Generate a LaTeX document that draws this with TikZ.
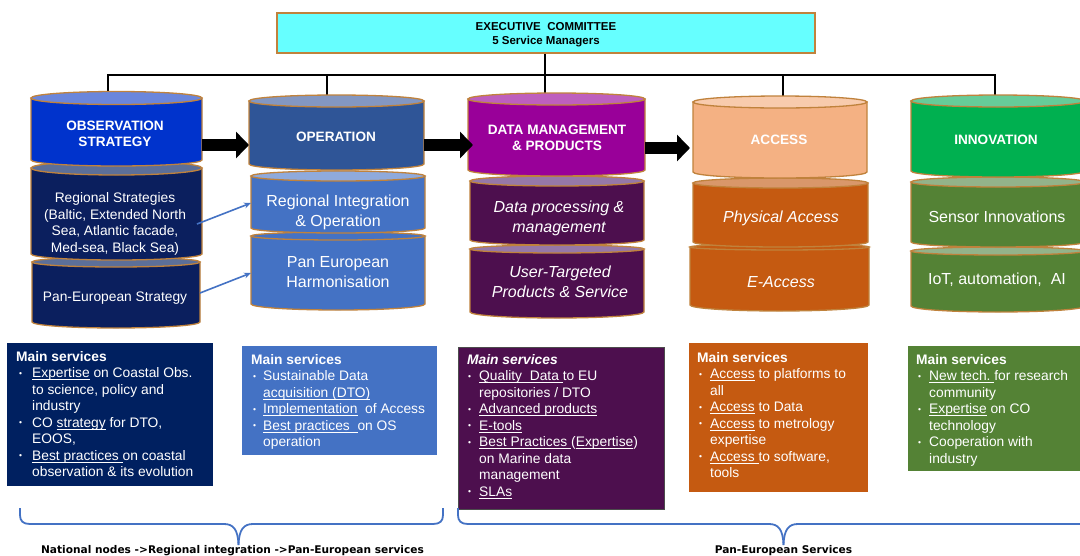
\documentclass[tikz,border=0pt]{standalone}
\usepackage{fontspec}
\setmainfont{Liberation Sans}
\newfontfamily\labfont{DejaVu Sans}
\usetikzlibrary{arrows.meta}

\definecolor{edgebrown}{HTML}{C0823C}
\definecolor{execcyan}{HTML}{66FFFF}
\definecolor{obsMain}{HTML}{0033CC}
\definecolor{obsLid}{HTML}{6A86DC}
\definecolor{obsSub}{HTML}{0B1F5E}
\definecolor{obsSubLid}{HTML}{5C6F99}
\definecolor{opMain}{HTML}{2F5597}
\definecolor{opLid}{HTML}{8397C2}
\definecolor{opSub}{HTML}{4472C4}
\definecolor{opSubLid}{HTML}{8FAADC}
\definecolor{dmMain}{HTML}{990099}
\definecolor{dmLid}{HTML}{BE5FBE}
\definecolor{dmSub}{HTML}{4D0F4E}
\definecolor{dmSubLid}{HTML}{9678A8}
\definecolor{acMain}{HTML}{F4B183}
\definecolor{acLid}{HTML}{F8CBAD}
\definecolor{acSub}{HTML}{C55A11}
\definecolor{acSubLid}{HTML}{D9976A}
\definecolor{inMain}{HTML}{00B050}
\definecolor{inLid}{HTML}{66CC99}
\definecolor{inSub}{HTML}{548235}
\definecolor{inSubLid}{HTML}{93B38A}
\definecolor{svcNavy}{HTML}{002060}
\definecolor{linkblue}{HTML}{4472C4}

% one layer of a stacked cylinder:
% #1 left x, #2 right x, #3 lid centre y, #4 side bottom y,
% #5 body colour, #6 lid colour, #7 lid radius, #8 base radius
\newcommand{\stackdisk}[8]{%
  \pgfmathsetmacro\sdrx{(#2-#1)/2}%
  \pgfmathsetmacro\sdcx{(#2+#1)/2}%
  \draw[diskedge, fill=#5] (#1,-#3) -- (#1,-#4)
    arc[start angle=180, end angle=360, x radius=\sdrx pt, y radius=#8pt]
    -- (#2,-#3) -- cycle;
  \draw[diskedge, fill=#6] (\sdcx,-#3) ellipse[x radius=\sdrx pt, y radius=#7pt];
}
% bullet with hanging indent, and the matching indent for continuation lines
\newcommand{\svbul}[2]{\makebox[#1][l]{\hspace{#2}\raisebox{1.6pt}{\fontsize{8.5}{8.5}\selectfont\textbullet}}}
\newcommand{\svind}[1]{\hspace*{#1}}
% underline sitting just under the baseline
\newcommand{\svul}[1]{\leavevmode\setbox0=\hbox{#1}\rlap{\rule[-2pt]{\wd0}{0.6pt}}\box0\relax}

\begin{document}
\begin{tikzpicture}[x=1pt, y=1pt,
  diskedge/.style={draw=edgebrown, line width=1.3pt},
  headtxt/.style={inner sep=0, text=white, align=center, font=\bfseries\fontsize{13.6}{16.5}\selectfont},
  smalltxt/.style={inner sep=0, text=white, align=center, font=\fontsize{13.8}{16.4}\selectfont},
  bigtxt/.style={inner sep=0, text=white, align=center, font=\fontsize{16}{20}\selectfont},
  itxt/.style={inner sep=0, text=white, align=center, font=\itshape\fontsize{16}{20}\selectfont},
  execbox/.style={draw=edgebrown, line width=1.5pt, fill=execcyan, inner sep=0,
    minimum width=538pt, minimum height=40pt},
  exectxt/.style={inner sep=0, align=center, font=\bfseries\fontsize{11.5}{14}\selectfont},
  bus/.style={draw=black, line width=1.6pt},
  flowarrow/.style={draw=black, line width=12pt, -{Triangle[length=13pt, width=26pt]}},
  linkarrow/.style={draw=linkblue, line width=1.6pt, -{Stealth[length=7pt, width=6pt]}},
  svctxt/.style={inner sep=0, anchor=north west, text=white, align=left,
    font=\fontsize{13.8}{16.5}\selectfont},
  brace/.style={draw=linkblue, line width=1.8pt},
  bracelab/.style={inner sep=0, anchor=base, font=\labfont\bfseries\fontsize{10.6}{12}\selectfont}
]
\useasboundingbox (0,0) rectangle (1080,-555);
\fill[white] (0,0) rectangle (1080,-555);

% ---------- executive committee and its bus ----------
\node[execbox] (exec) at (546,-33) {};
\node[exectxt] (execTxt) at (546,-34.5) {EXECUTIVE\ \ COMMITTEE\\5 Service Managers};

\coordinate (obsT) at (108,-92);
\coordinate (opT)  at (327,-95);
\coordinate (dmT)  at (545,-93);
\coordinate (acT)  at (783,-97);
\coordinate (inT)  at (995,-95);
\coordinate (busY) at (0,-75);

\draw[bus] (obsT) -- (obsT |- busY) -- (inT |- busY) -- (inT);
\draw[bus] (opT) -- (opT |- busY);
\draw[bus] (acT) -- (acT |- busY);
\draw[bus] (exec.south -| dmT) -- (dmT);

% ---------- stacked service cylinders ----------
% observation strategy
\stackdisk{32}{200}{262}{322}{obsSub}{obsSubLid}{5}{6}
\stackdisk{31}{202}{168}{254}{obsSub}{obsSubLid}{7}{6}
\stackdisk{31}{202}{98}{160}{obsMain}{obsLid}{6.5}{6}
% operation
\stackdisk{251}{425}{236}{304}{opSub}{opSub}{4}{6}
\stackdisk{251}{425}{176}{228}{opSub}{opSubLid}{5}{5}
\stackdisk{249}{424}{101}{164}{opMain}{opLid}{6}{6}
% data management & products
\stackdisk{470}{644}{249}{312}{dmSub}{dmSubLid}{4}{6}
\stackdisk{470}{644}{181}{240}{dmSub}{dmSubLid}{5}{5}
\stackdisk{468}{645}{99}{170}{dmMain}{dmLid}{6}{6}
% access
\stackdisk{690}{869}{247}{305}{acSub}{acSub}{3}{6}
\stackdisk{693}{868}{183}{242}{acSub}{acSubLid}{5}{5}
\stackdisk{693}{867}{102}{172}{acMain}{acLid}{6}{6}
% innovation
\stackdisk{911}{1085}{251}{306}{inSub}{inSubLid}{4}{6}
\stackdisk{911}{1085}{182}{242}{inSub}{inSubLid}{5}{5}
\stackdisk{911}{1085}{101}{171}{inMain}{inLid}{6}{6}

% ---------- cylinder labels ----------
\node[headtxt] (obsHead) at (115,-134) {OBSERVATION\\STRATEGY};
\node[smalltxt] (obsReg) at (115,-224) {Regional Strategies\\(Baltic, Extended North\\Sea, Atlantic facade,\\Med-sea, Black Sea)};
\node[smalltxt] (obsPan) at (115,-298) {Pan-European Strategy};

\node[headtxt] (opHead) at (336,-137) {OPERATION};
\node[bigtxt] (opReg) at (338,-212) {Regional Integration\\\& Operation};
\node[bigtxt] (opPan) at (338,-272) {Pan European\\Harmonisation};

\node[headtxt] (dmHead) at (557,-138) {DATA MANAGEMENT\\\& PRODUCTS};
\node[itxt] (dmProc) at (559,-218) {Data processing \&\\management};
\node[itxt] (dmProd) at (560,-282) {User-Targeted\\Products \& Service};

\node[headtxt] (acHead) at (779,-140) {ACCESS};
\node[itxt] (acPhys) at (781,-218) {Physical Access};
\node[itxt] (acE) at (781,-282) {E-Access};

\node[headtxt] (inHead) at (996,-140) {INNOVATION};
\node[bigtxt] (inSens) at (997,-217) {Sensor Innovations};
\node[bigtxt] (inIot) at (997,-280) {IoT, automation,\ \ AI};

% ---------- flow between services ----------
\coordinate (fa1s) at (202,-145);
\coordinate (fa1e) at (249,-145);
\coordinate (fa2s) at (424,-145);
\coordinate (fa2e) at (473,-145);
\coordinate (fa3s) at (645,-148);
\coordinate (fa3e) at (690,-148);
\draw[flowarrow] (fa1s) -- (fa1e);
\draw[flowarrow] (fa2s) -- (fa2e);
\draw[flowarrow] (fa3s) -- (fa3e);

\coordinate (l1s) at (197,-224);
\coordinate (l1e) at (251,-203);
\coordinate (l2s) at (200,-293);
\coordinate (l2e) at (251,-273);
\draw[linkarrow] (l1s) -- (l1e);
\draw[linkarrow] (l2s) -- (l2e);

% ---------- main services panels ----------
\fill[svcNavy] (7,-343) rectangle (213,-486);
\node[svctxt] (svcObs) at (16,-351) {\textbf{Main services}\\
\svbul{16pt}{3pt}\svul{Expertise} on Coastal Obs.\\
\svind{16pt}to science, policy and\\
\svind{16pt}industry\\
\svbul{16pt}{3pt}CO \svul{strategy}\ for DTO,\\
\svind{16pt}EOOS,\\
\svbul{16pt}{3pt}\svul{Best practices\ }on coastal\\
\svind{16pt}observation \& its evolution};

\fill[opSub] (242,-346) rectangle (437,-455);
\node[svctxt] (svcOp) at (251,-354) {\textbf{Main services}\\
\svbul{12pt}{2pt}Sustainable Data\\
\svind{12pt}\svul{acquisition (DTO)}\\
\svbul{12pt}{2pt}\svul{Implementation}\ \ of Access\\
\svbul{12pt}{2pt}\svul{Best practices\ \ }on OS\\
\svind{12pt}operation};

\filldraw[fill=dmSub, draw=black!70, line width=0.6pt] (458,-347) rectangle (664,-509);
\node[svctxt] (svcDm) at (467,-354) {\textbf{\itshape Main services}\\
\svbul{12pt}{1pt}\svul{Quality\ \ Data\ }to EU\\
\svind{12pt}repositories / DTO\\
\svbul{12pt}{1pt}\svul{Advanced products}\\
\svbul{12pt}{1pt}\svul{E-tools}\\
\svbul{12pt}{1pt}\svul{Best Practices\ }(\svul{Expertise})\\
\svind{12pt}on Marine data\\
\svind{12pt}management\\
\svbul{12pt}{1pt}\svul{SLAs}};

\fill[acSub] (689,-343) rectangle (868,-492);
\node[svctxt] (svcAc) at (697,-352) {\textbf{Main services}\\
\svbul{13pt}{2pt}\svul{Access} to platforms to\\
\svind{13pt}all\\
\svbul{13pt}{2pt}\svul{Access} to Data\\
\svbul{13pt}{2pt}\svul{Access} to metrology\\
\svind{13pt}expertise\\
\svbul{13pt}{2pt}\svul{Access\ }to software,\\
\svind{13pt}tools};

\fill[inSub] (908,-346) rectangle (1085,-471);
\node[svctxt] (svcIn) at (916,-354) {\textbf{Main services}\\
\svbul{13pt}{2pt}\svul{New tech.\ }for research\\
\svind{13pt}community\\
\svbul{13pt}{2pt}\svul{Expertise} on CO\\
\svind{13pt}technology\\
\svbul{13pt}{2pt}Cooperation with\\
\svind{13pt}industry};

% ---------- grouping braces ----------
\draw[brace] (20,-508) -- (20,-515) .. controls (20,-521) and (23,-524) .. (30,-524)
  -- (224,-524) .. controls (233,-524) and (238,-529) .. (238.5,-545);
\draw[brace] (238.5,-545) .. controls (239,-529) and (244,-524) .. (253,-524)
  -- (433,-524) .. controls (440,-524) and (443,-521) .. (443,-515) -- (443,-508);

\draw[brace] (458,-508) -- (458,-515) .. controls (458,-521) and (461,-524) .. (468,-524)
  -- (769,-524) .. controls (778,-524) and (783,-529) .. (783.5,-545);
\draw[brace] (783.5,-545) .. controls (784,-529) and (789,-524) .. (798,-524) -- (1090,-524);

\node[bracelab] (grpNat) at (232.5,-553.5) {National nodes ->Regional integration ->Pan-European services};
\node[bracelab] (grpPan) at (783.5,-553.5) {Pan-European Services};
\end{tikzpicture}
\end{document}
